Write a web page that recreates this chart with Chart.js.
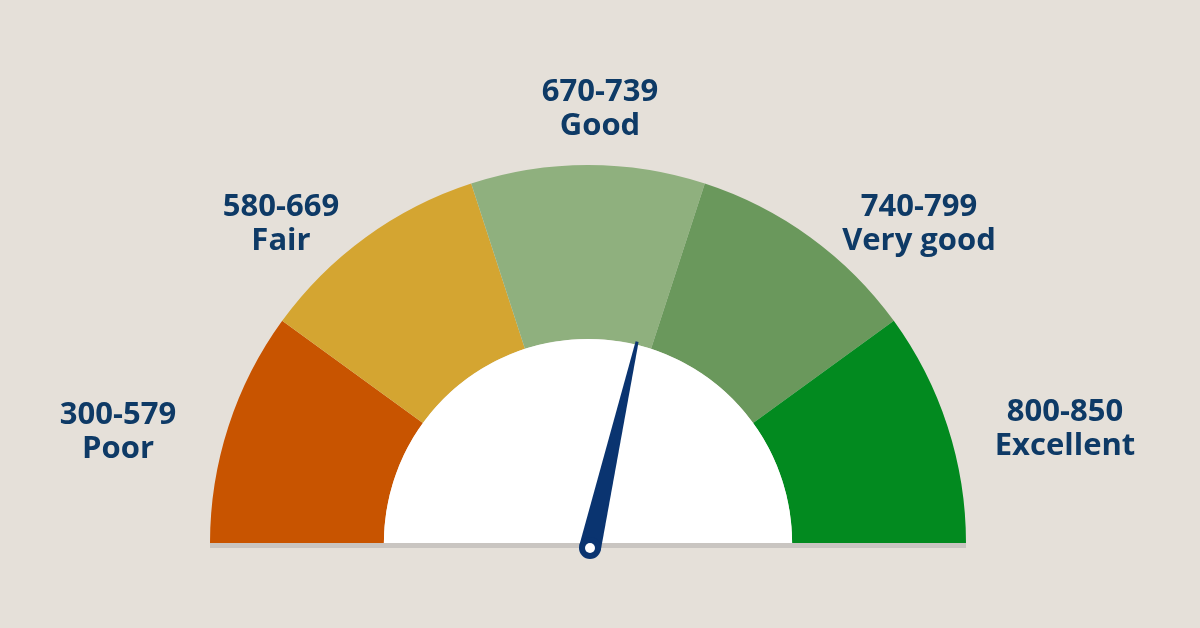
<!DOCTYPE html>
<html>
<head>
<meta charset="utf-8">
<script src="https://cdn.jsdelivr.net/npm/chart.js@4"></script>
<style>
  html, body { margin: 0; padding: 0; background: #E5E0D9; }
  #wrap { width: 1200px; height: 628px; }
</style>
</head>
<body>
<div id="wrap"><canvas id="gauge" width="1200" height="628"></canvas></div>
<script>
// Credit score gauge

const ranges = ["300-579", "580-669", "670-739", "740-799", "800-850"];
const names = ["Poor", "Fair", "Good", "Very good", "Excellent"];
const bands = [1, 1, 1, 1, 1];
const colors = ["#C85400", "#D4A531", "#8FB07E", "#6A985C", "#028A1F"];
const needleScore = 730;
const bandLimits = [[300, 579], [580, 669], [670, 739], [740, 799], [800, 850]];

// label anchor positions
const labelPos = [[118, 415], [281, 207], [600, 92], [919, 207], [1065, 412]];

const navy = "#0E3A66";

function scoreToFraction(score) {
    for (let i = 0; i < bandLimits.length; i++) {
        const lo = bandLimits[i][0], hi = bandLimits[i][1] + 1;
        if (score < hi || i === bandLimits.length - 1) {
            return (i + Math.min(1, (score - lo) / (hi - lo))) / bandLimits.length;
        }
    }
    return 1;
}

const gaugeExtras = {
    id: "gaugeExtras",
    afterDatasetsDraw(chart) {
        const ctx = chart.ctx;
        const arc = chart.getDatasetMeta(0).data[0];
        const cx = arc.x, cy = arc.y, R = arc.outerRadius;

        // base shadow
        ctx.save();
        ctx.fillStyle = "#C9C5C1";
        ctx.fillRect(cx - R, cy, 2 * R, 5);

        // white inner disc
        ctx.fillStyle = "#FFFFFF";
        ctx.beginPath();
        ctx.arc(cx, cy, R * 0.54, Math.PI, 2 * Math.PI);
        ctx.closePath();
        ctx.fill();

        // needle
        const a = Math.PI + Math.PI * scoreToFraction(needleScore);
        const len = R * 0.56;
        const bx = cx + 2, by = cy + 5;
        const tx = bx + Math.cos(a) * len, ty = by + Math.sin(a) * len;
        const px = -Math.sin(a), py = Math.cos(a);
        ctx.fillStyle = "#0A3470";
        ctx.beginPath();
        ctx.moveTo(tx + px * 1.5, ty + py * 1.5);
        ctx.lineTo(tx - px * 1.5, ty - py * 1.5);
        ctx.lineTo(bx - px * 11, by - py * 11);
        ctx.lineTo(bx + px * 11, by + py * 11);
        ctx.closePath();
        ctx.fill();
        ctx.beginPath();
        ctx.arc(bx, by, 11, 0, 2 * Math.PI);
        ctx.fill();
        ctx.fillStyle = "#FFFFFF";
        ctx.beginPath();
        ctx.arc(bx, by, 5, 0, 2 * Math.PI);
        ctx.fill();

        // labels
        ctx.fillStyle = navy;
        ctx.font = "bold 31px 'Open Sans', sans-serif";
        ctx.textAlign = "center";
        ctx.textBaseline = "middle";
        ranges.forEach((r, i) => {
            const [x, y] = labelPos[i];
            ctx.fillText(r, x, y);
            ctx.fillText(names[i], x, y + 34);
        });
        ctx.restore();
    }
};

new Chart(document.getElementById("gauge"), {
    type: "doughnut",
    data: {
        labels: names,
        datasets: [{
            data: bands,
            backgroundColor: colors,
            borderWidth: 0
        }]
    },
    options: {
        responsive: false,
        animation: false,
        rotation: -90,
        circumference: 180,
        cutout: "54%",
        layout: { padding: { left: 209, right: 233, top: 165, bottom: 85 } },
        plugins: { legend: { display: false }, tooltip: { enabled: false } }
    },
    plugins: [gaugeExtras]
});
</script>
</body>
</html>
